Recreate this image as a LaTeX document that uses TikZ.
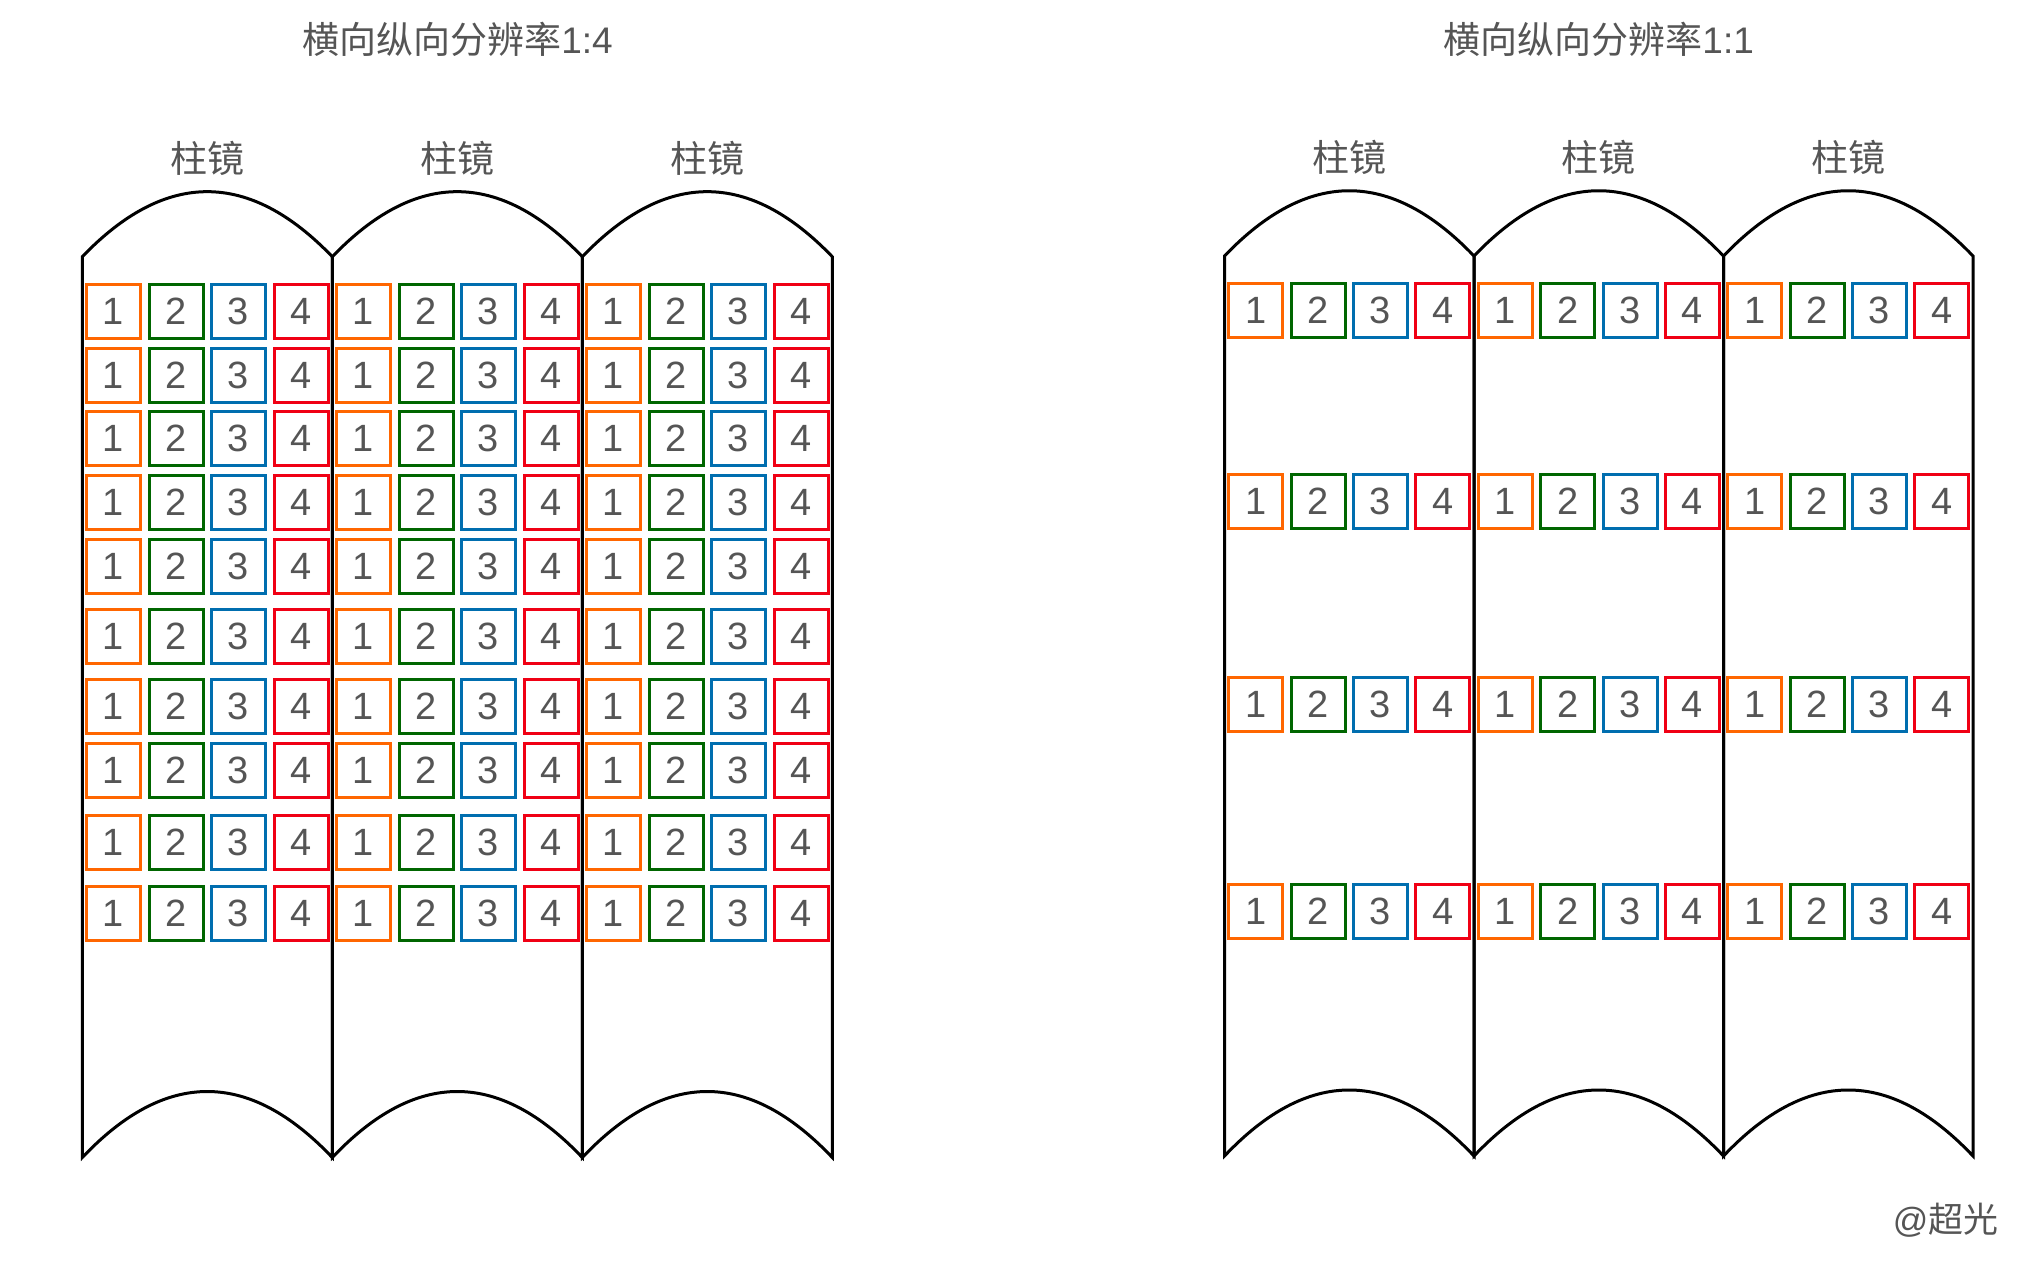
\documentclass[tikz,border=0pt]{standalone}
\usepackage{fontspec}
\setmainfont{Liberation Sans}
\newfontfamily\cjk{Noto Sans CJK SC}
\definecolor{cOne}{RGB}{255,102,0}
\definecolor{cTwo}{RGB}{0,102,0}
\definecolor{cThree}{RGB}{0,110,175}
\definecolor{cFour}{RGB}{240,0,20}
\definecolor{txt}{RGB}{85,85,85}
\tikzset{
  cell/.style={draw, line width=3pt, minimum size=54pt, inner sep=0pt, text=txt, font=\fontsize{38}{40}\selectfont},
  lens/.style={draw=black, line width=3pt, line join=miter},
  lbl/.style={text=txt, font=\fontsize{37}{44}\selectfont, inner sep=0pt},
}
\begin{document}
\begin{tikzpicture}[x=1pt,y=-1pt]
\useasboundingbox (0,0) rectangle (2030,1264);
% titles
\node[lbl] (titleL) at (457.5,39) {{\cjk 横向纵向分辨率}1:4};
\node[lbl] (titleR) at (1598.7,39) {{\cjk 横向纵向分辨率}1:1};
\node[lbl, font=\fontsize{35}{40}\selectfont] (author) at (1945.5,1220) {@{\cjk 超光}};
% left lenses
\foreach \xa [count=\li] in {82.3,332.3,582.3} {
  \draw[lens] (\xa,256.7) -- (\xa,1157.5)
    .. controls ({\xa+83.33},1069.5) and ({\xa+166.67},1069.5) .. ({\xa+250},1157.5)
    -- ({\xa+250},256.7)
    .. controls ({\xa+166.67},170) and ({\xa+83.33},170) .. cycle;
  \node[lbl] (lensL-\li) at ({\xa+125},158) {\cjk 柱镜};
  \foreach \yy [count=\ri] in {311,375,438,502,566,636,706,770,842,913} {
    \foreach \cc/\k in {cOne/1,cTwo/2,cThree/3,cFour/4} {
      \node[cell, draw=\cc] (A-\li-\ri-\k) at ({\xa+31.25+62.5*(\k-1)},\yy) {\k};
    }
  }
}
% right lenses
\foreach \xa [count=\li] in {1224.5,1474,1723.5} {
  \draw[lens] (\xa,256) -- (\xa,1156)
    .. controls ({\xa+83.17},1068) and ({\xa+166.33},1068) .. ({\xa+249.5},1156)
    -- ({\xa+249.5},256)
    .. controls ({\xa+166.33},169) and ({\xa+83.17},169) .. cycle;
  \node[lbl] (lensR-\li) at ({\xa+124.75},157) {\cjk 柱镜};
  \foreach \yy [count=\ri] in {310,501,704,911} {
    \foreach \cc/\k in {cOne/1,cTwo/2,cThree/3,cFour/4} {
      \node[cell, draw=\cc] (B-\li-\ri-\k) at ({\xa+31.2+62.4*(\k-1)},\yy) {\k};
    }
  }
}
\end{tikzpicture}
\end{document}
